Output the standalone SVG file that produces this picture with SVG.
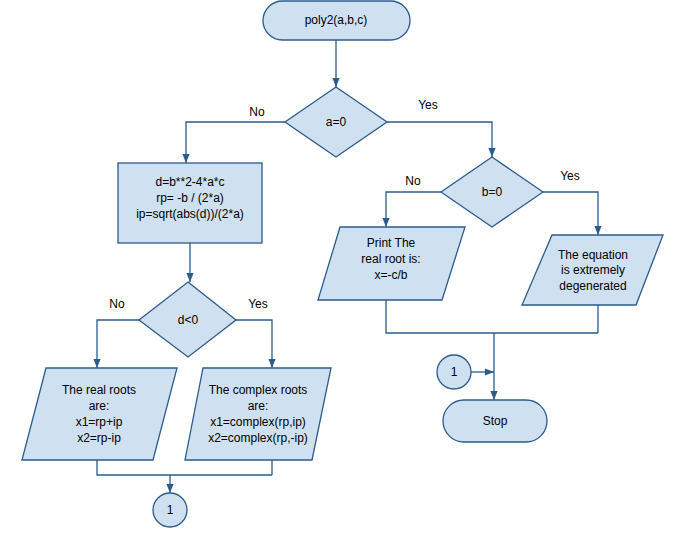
<svg xmlns="http://www.w3.org/2000/svg" width="680" height="549" viewBox="0 0 680 549">
<defs>
<style>
.s{fill:#cfe0f1;stroke:#2b5c8c;stroke-width:1.3}
.l{fill:none;stroke:#2b5c8c;stroke-width:1.3}
text{font-family:"Liberation Sans",Arial,sans-serif;font-size:12px;fill:#000;text-anchor:middle}
</style>
<marker id="a" viewBox="0 0 10 10" refX="10" refY="5" markerWidth="7" markerHeight="7" orient="auto"><path d="M0,1 L10,5 L0,9 z" fill="#2b5c8c"/></marker>
</defs>
<rect width="680" height="549" fill="#fff"/>
<g id="connectors">
<path class="l" d="M336,40 V87" marker-end="url(#a)"/>
<path class="l" d="M285,122 H186 V163" marker-end="url(#a)"/>
<path class="l" d="M387,122 H492 V157" marker-end="url(#a)"/>
<path class="l" d="M190,243 V282" marker-end="url(#a)"/>
<path class="l" d="M139,320 H97 V368" marker-end="url(#a)"/>
<path class="l" d="M236,320 H272 V368" marker-end="url(#a)"/>
<path class="l" d="M97,460 V475 H272 M272,460 V475"/>
<path class="l" d="M170,475 V493" marker-end="url(#a)"/>
<path class="l" d="M441,192 H386 V227" marker-end="url(#a)"/>
<path class="l" d="M543,192 H598 V235" marker-end="url(#a)"/>
<path class="l" d="M386,300 V333 H598 M598,305 V333"/>
<path class="l" d="M494,333 V400" marker-end="url(#a)"/>
<path class="l" d="M471,372 H494" marker-end="url(#a)"/>
<text x="257" y="116">No</text>
<text x="428" y="109">Yes</text>
<text x="117" y="308">No</text>
<text x="258" y="308">Yes</text>
<text x="413" y="185">No</text>
<text x="570" y="180">Yes</text>
</g>
<g id="start"><rect class="s" x="263" y="1" width="147" height="39" rx="19.5"/><text x="336" y="24">poly2(a,b,c)</text></g>
<g id="dec_a"><path class="s" d="M336,87 L387,122 L336,157 L285,122 Z"/><text x="336" y="126">a=0</text></g>
<g id="calc"><rect class="s" x="118" y="163" width="144" height="80"/><text x="190" y="186">d=b**2-4*a*c</text><text x="190" y="202">rp= -b / (2*a)</text><text x="190" y="218">ip=sqrt(abs(d))/(2*a)</text></g>
<g id="dec_d"><path class="s" d="M188,282 L236,320 L188,357 L139,320 Z"/><text x="188" y="324">d&lt;0</text></g>
<g id="real"><path class="s" d="M46,368 H177 L153,460 H22 Z"/><text x="99" y="394">The real roots</text><text x="99" y="410">are:</text><text x="99" y="426">x1=rp+ip</text><text x="99" y="442">x2=rp-ip</text></g>
<g id="complex"><path class="s" d="M203,368 H331 L312,460 H185 Z"/><text x="258" y="394">The complex roots</text><text x="258" y="410">are:</text><text x="258" y="426">x1=complex(rp,ip)</text><text x="258" y="442">x2=complex(rp,-ip)</text></g>
<g id="c1a"><circle class="s" cx="170" cy="510" r="17"/><text x="170" y="514">1</text></g>
<g id="dec_b"><path class="s" d="M492,157 L543,192 L492,227 L441,192 Z"/><text x="492" y="196">b=0</text></g>
<g id="print"><path class="s" d="M340,227 H465 L442,300 H318 Z"/><text x="391" y="247">Print The</text><text x="391" y="263">real root is:</text><text x="391" y="279">x=-c/b</text></g>
<g id="degen"><path class="s" d="M552,235 H663 L636,305 H522 Z"/><text x="593" y="259">The equation</text><text x="593" y="274">is extremely</text><text x="593" y="290">degenerated</text></g>
<g id="c1b"><circle class="s" cx="454" cy="372" r="17"/><text x="454" y="376">1</text></g>
<g id="stop"><rect class="s" x="443" y="400" width="104" height="42" rx="21"/><text x="495" y="425">Stop</text></g>
</svg>
